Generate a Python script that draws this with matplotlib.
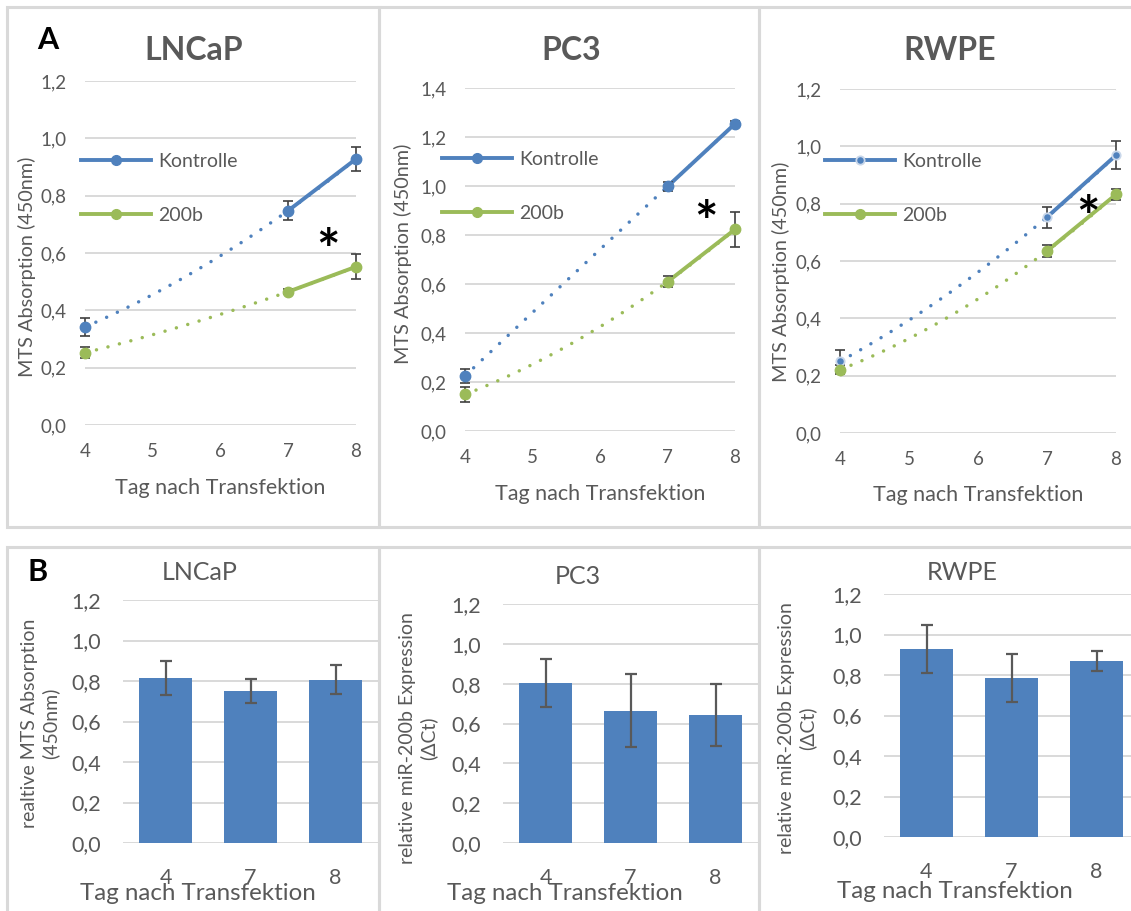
import numpy as np
import matplotlib.pyplot as plt
from matplotlib.patches import Rectangle
from matplotlib.lines import Line2D

W, H = 1131, 911

plt.rcParams['font.family'] = ['Lato', 'DejaVu Sans']
GRAY = '#595959'
BLUE = '#4F81BD'
GREEN = '#9BBB59'
GRID = '#D9D9D9'
ERR = '#404040'

# --- A: MTS absorption over days ---
days = [4, 7, 8]
cells = ['LNCaP', 'PC3', 'RWPE']
kontrolle = [[0.342, 0.748, 0.928], [0.225, 0.998, 1.254], [0.250, 0.753, 0.969]]
kontrolle_err = [[0.030, 0.034, 0.043], [0.030, 0.020, 0.010], [0.040, 0.037, 0.049]]
mir200b = [[0.252, 0.465, 0.552], [0.149, 0.609, 0.823], [0.221, 0.635, 0.832]]
mir200b_err = [[0.020, 0.008, 0.044], [0.030, 0.022, 0.072], [0.015, 0.020, 0.019]]
ymax_a = [1.2, 1.4, 1.2]

# --- B: relative values ---
bar_days = ['4', '7', '8']
rel_vals = [[0.814, 0.751, 0.807], [0.802, 0.665, 0.642], [0.928, 0.786, 0.868]]
rel_err = [[0.085, 0.058, 0.072], [0.120, 0.183, 0.156], [0.120, 0.120, 0.050]]
ylabels_b = ['realtive MTS Absorption\n(450nm)',
             'relative miR-200b Expression\n(ΔCt)',
             'relative miR-200b Expression\n(ΔCt)']

fig = plt.figure(figsize=(W / 100, H / 100), dpi=100)


def px_axes(x0, x1, ytop, ybot):
    return fig.add_axes([x0 / W, 1 - ybot / H, (x1 - x0) / W, (ybot - ytop) / H])


def ftext(x, y, s, **kw):
    return fig.text(x / W, 1 - y / H, s, **kw)


def comma(v):
    return f'{v:.1f}'.replace('.', ',')


def style(ax, ymax, labelsize, padx, pady):
    ticks = np.round(np.arange(0, ymax + 0.001, 0.2), 1)
    ax.set_ylim(0, ymax)
    ax.set_yticks(ticks)
    ax.set_yticklabels([comma(t) for t in ticks])
    ax.grid(axis='y', color=GRID, lw=1.4)
    ax.set_axisbelow(True)
    for s in ax.spines.values():
        s.set_visible(False)
    ax.tick_params(axis='both', length=0, colors=GRAY, labelsize=labelsize)
    ax.tick_params(axis='x', pad=padx)
    ax.tick_params(axis='y', pad=pady)


# panel frames
frames = [(7, 379, 7, 527), (379, 759, 7, 527), (759, 1135, 7, 527),
          (7, 379, 547, 915), (379, 759, 547, 915), (759, 1135, 547, 915)]
for x0, x1, y0, y1 in frames:
    fig.patches.append(Rectangle((x0 / W, 1 - y1 / H), (x1 - x0) / W, (y1 - y0) / H,
                                 transform=fig.transFigure, fill=False, ec=GRID, lw=2.2))

# ---------- top row ----------
top_pos = [(85, 356, 81, 425), (465, 735, 88, 431), (840, 1116, 89, 433)]
top_title = [(194, 50), (571, 50), (950, 50)]
top_ylab = [(27, 267), (403, 254), (781, 272)]
top_xlab = [(220, 488), (600, 494), (978, 495)]
legend_at = [(81, 153), (442, 151), (825, 153)]
star_at = [(328, 253), (706, 225), (1088, 220)]

fine = np.linspace(4, 8, 200)
for i, cell in enumerate(cells):
    ax = px_axes(*top_pos[i])
    style(ax, ymax_a[i], 13.5, 13, 13)
    ax.set_xlim(4, 8)
    ax.set_xticks([4, 5, 6, 7, 8])
    light = (cell == 'RWPE')
    for vals, errs, col, is_k in [(kontrolle[i], kontrolle_err[i], BLUE, True),
                                  (mir200b[i], mir200b_err[i], GREEN, False)]:
        # polynomial trendline (order 2), dotted
        trend = np.polyval(np.polyfit(days, vals, 2), fine)
        ax.plot(fine, trend, color=col, lw=2.5, ls=(0, (0.01, 3.4)),
                dash_capstyle='round', zorder=2)
        ax.plot(days[1:], vals[1:], color=col, lw=2.8, solid_capstyle='round', zorder=3)
        ax.errorbar(days, vals, yerr=errs, fmt='none', ecolor=ERR, elinewidth=1.2,
                    capsize=3.3, capthick=1.2, zorder=4)
        if light and is_k:
            ax.plot(days, vals, 'o', color=col, ms=6, mec='#C9D7EA', mew=1.3, zorder=5)
        else:
            ax.plot(days, vals, 'o', color=col, ms=7.5, zorder=5)
    for art in ax.get_children():
        art.set_clip_on(False)
    if light:
        hk = Line2D([], [], color=BLUE, lw=2.8, marker='o', ms=6, mec='#C9D7EA', mew=1.3)
    else:
        hk = Line2D([], [], color=BLUE, lw=2.8, marker='o', ms=7)
    handles = [hk, Line2D([], [], color=GREEN, lw=2.8, marker='o', ms=7)]
    lx, ly = legend_at[i]
    ax.legend(handles, ['Kontrolle', '200b'], loc='upper left',
              bbox_to_anchor=(lx / W, 1 - ly / H), bbox_transform=fig.transFigure,
              frameon=False, handlelength=3.6, handletextpad=0.35, labelspacing=1.9,
              borderpad=0, borderaxespad=0, fontsize=14, labelcolor=GRAY, numpoints=1)
    ftext(*top_title[i], cell, ha='center', va='center', fontsize=23,
          fontweight='bold', color=GRAY)
    ftext(*top_ylab[i], 'MTS Absorption (450nm)', ha='center', va='center',
          rotation=90, fontsize=14.3, color=GRAY)
    ftext(*top_xlab[i], 'Tag nach Transfektion', ha='center', va='center',
          fontsize=15.5, color=GRAY)
    ftext(*star_at[i], '*', ha='center', va='center', fontsize=40,
          fontweight='bold', color='black')

ftext(48, 40, 'A', ha='center', va='center', fontsize=22, fontweight='bold', color='black')

# ---------- bottom row ----------
bot_pos = [(123, 378, 600, 843), (503, 758, 604, 843), (884, 1139, 594, 837)]
bot_title = [(200, 573), (578, 576), (962, 573)]
bot_ylab = [(40, 723), (418, 738), (797, 728)]
bot_xlab = [(198, 893), (565, 894), (955, 892)]

xb = np.arange(len(bar_days))
for i, cell in enumerate(cells):
    ax = px_axes(*bot_pos[i])
    style(ax, 1.2, 15.5, 18, 16)
    ax.bar(xb, rel_vals[i], width=0.63, color=BLUE, zorder=2)
    ax.errorbar(xb, rel_vals[i], yerr=rel_err[i], fmt='none', ecolor=GRAY,
                elinewidth=1.6, capsize=4.3, capthick=1.6, zorder=3)
    ax.set_xlim(-0.5, 2.5)
    ax.set_xticks(xb)
    ax.set_xticklabels(bar_days)
    ftext(*bot_title[i], cell, ha='center', va='center', fontsize=18, color=GRAY)
    ftext(*bot_ylab[i], ylabels_b[i], ha='center', va='center', rotation=90,
          fontsize=14, color=GRAY, multialignment='center', linespacing=1.2)
    ftext(*bot_xlab[i], 'Tag nach Transfektion', ha='center', va='center',
          fontsize=17.4, color=GRAY)

ftext(38, 572, 'B', ha='center', va='center', fontsize=22, fontweight='bold', color='black')

fig.savefig('out.png', dpi=100)
